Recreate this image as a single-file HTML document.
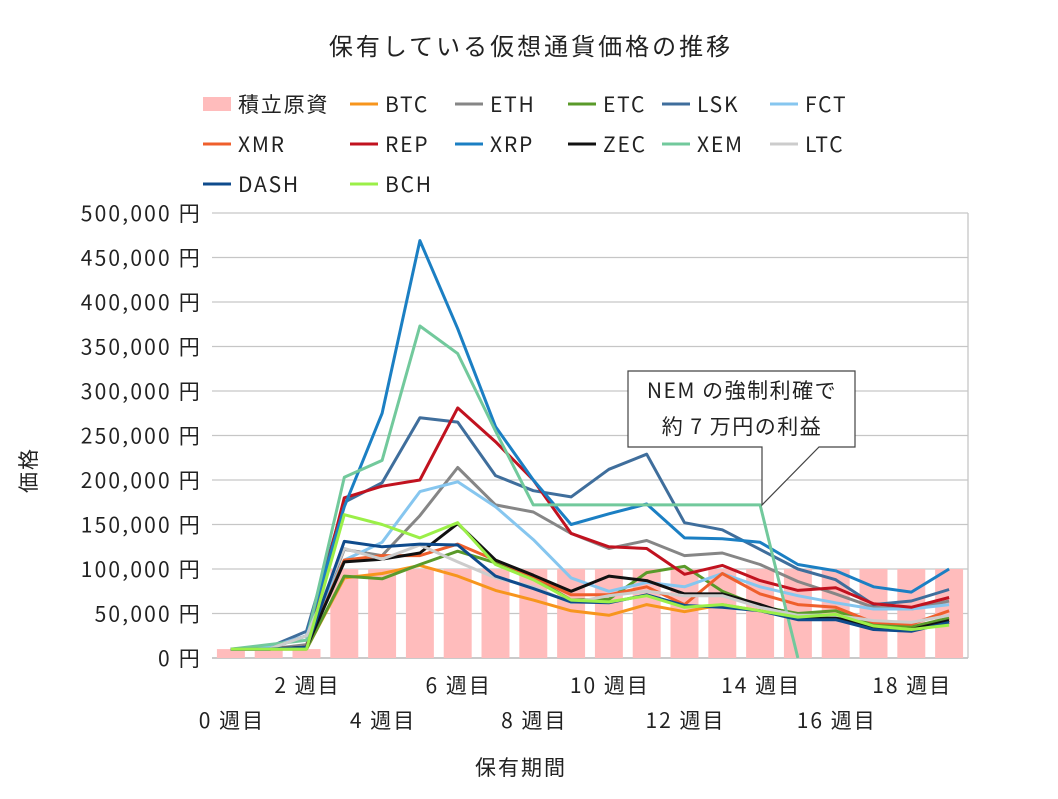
<!DOCTYPE html>
<html><head><meta charset="utf-8"><style>
body{margin:0;background:#fff;}
svg text{font-family:"Noto Sans CJK JP","Liberation Sans",sans-serif;fill:#222;}
</style></head><body>
<svg id="chart" width="1058" height="794">
<text x="531" y="55" font-size="24" letter-spacing="3" text-anchor="middle">保有している仮想通貨価格の推移</text>
<g id="legend"></g>
<g id="grid"></g>
<g id="bars"></g>
<g id="lines"></g>
<g id="yaxis"></g>
<g id="xaxis"></g>
<text transform="translate(36,470) rotate(-90)" font-size="21" letter-spacing="2" text-anchor="middle">価格</text>
<text x="521" y="775" font-size="21" letter-spacing="2" text-anchor="middle">保有期間</text>
<g>
<path d="M628,371 H855 V447 H819 L762,505 L762,447 H628 Z" fill="#fff" stroke="#444" stroke-width="1.2"/>
<text x="742" y="398" font-size="21" letter-spacing="1.5" text-anchor="middle">NEM の強制利確で</text>
<text x="742" y="434" font-size="21" letter-spacing="1.5" text-anchor="middle">約 7 万円の利益</text>
</g>
</svg>
<script>
const weeks=[0,1,2,3,4,5,6,7,8,9,10,11,12,13,14,15,16,17,18,19];
const yTicks=[0,50000,100000,150000,200000,250000,300000,350000,400000,450000,500000];
const principal=[10000,10000,10000,100000,100000,100000,100000,100000,100000,100000,100000,100000,100000,100000,100000,100000,100000,100000,100000,100000];
const BTC=[10,10,10,90,95,104,92,76,65,53,48,60,52,60,53,45,47,35,33,42];
const ETH=[10,10,15,122,115,160,214,172,164,140,123,132,115,118,105,86,72,57,55,64];
const ETC=[10,10,10,92,89,105,120,107,90,65,66,96,103,75,58,50,53,38,35,45];
const LSK=[10,12,30,175,197,270,265,205,188,181,212,229,152,144,122,100,88,60,64,77];
const FCT=[10,12,25,110,130,187,198,170,133,90,75,85,80,95,80,70,62,55,55,60];
const XMR=[10,10,12,110,115,115,128,110,91,71,71,80,60,95,72,60,57,40,38,53];
const REP=[10,10,12,180,193,200,281,243,200,140,125,123,94,104,87,76,79,61,57,68];
const XRP=[10,10,25,170,275,469,370,260,200,150,162,173,135,134,130,105,98,80,74,100];
const ZEC=[10,10,12,108,111,118,151,110,93,75,92,87,72,72,60,46,46,35,32,42];
const XEM=[10,15,20,203,222,373,342,255,172,172,172,172,172,172,172,0];
const LTC=[10,10,25,123,111,127,108,90,80,62,70,75,70,70,57,48,48,42,40,48];
const DASH=[10,10,12,131,125,128,127,92,78,63,62,71,59,57,53,43,43,32,30,40];
const BCH=[10,10,10,161,150,135,152,105,88,65,63,70,57,60,53,46,49,36,32,37];
const seriesNames=["BTC","ETH","ETC","LSK","FCT","XMR","REP","XRP","ZEC","XEM","LTC","DASH","BCH"];
const seriesData=[BTC,ETH,ETC,LSK,FCT,XMR,REP,XRP,ZEC,XEM,LTC,DASH,BCH];
const colors=["#f7951d","#868686","#5a9a2a","#3f6e9c","#86c6ef","#ef5f2c","#c1121f","#1b7fc3","#111111","#72c99c","#cccccc","#0f4b8c","#9bef48"];
const NS="http://www.w3.org/2000/svg";
const X0=212,X1=968,Y0=658,Y1=213,band=(X1-X0)/weeks.length;
const xs=i=>X0+band*(i+0.5);
const ys=v=>Y0-(v/500000)*(Y0-Y1);
function mk(tag,attrs,parent){const e=document.createElementNS(NS,tag);for(const k in attrs)e.setAttribute(k,attrs[k]);document.getElementById(parent).appendChild(e);return e;}
yTicks.forEach(t=>{
 const l=mk('line',{x1:X0,x2:X1,y1:ys(t),y2:ys(t),stroke:t===0?'#aaa':'#c6c6c6','stroke-width':1.3},'grid');
 
 
 const tx=mk('text',{x:202,y:ys(t)+8,'font-size':21,'letter-spacing':2.2,'text-anchor':'end'},'yaxis');
 tx.textContent=t.toLocaleString('en-US')+' 円';
 
 
});
mk('line',{x1:X1,x2:X1,y1:Y1,y2:Y0,stroke:'#c6c6c6','stroke-width':1.3},'grid');
weeks.forEach((w,i)=>{
 const b=mk('rect',{x:xs(i)-band*0.37,width:band*0.74,y:ys(principal[i]),height:Y0-ys(principal[i]),fill:'#ffbcbc'},'bars');
 
 
 if(w%2===0){
  const tx=mk('text',{x:xs(i)+1,y:(w%4===2)?693:728,'font-size':21,'letter-spacing':2,'text-anchor':'middle'},'xaxis');
  tx.textContent=w+' 週目';
  
  
 }
});
seriesData.forEach((d,s)=>{
 const pts=d.map((v,i)=>xs(i).toFixed(1)+','+ys(v*1000).toFixed(1)).join(' ');
 const p=mk('polyline',{points:pts,fill:'none',stroke:colors[s],'stroke-width':3,'stroke-linejoin':'round'},'lines');
 
 
});
const legItems=[{n:"積立原資",bar:true}].concat(seriesNames.map((n,i)=>({n:n,c:colors[i]})));
const colX=[203,350,455,568,662,770];
legItems.forEach((it,k)=>{
 const r=Math.floor(k/6),c=k%6,x=colX[c],y=104+r*40;
 if(it.bar){const sw=mk('rect',{x:x,y:y-7,width:28,height:14,fill:'#ffbcbc'},'legend');}
 else{const sw=mk('line',{x1:x,x2:x+28,y1:y,y2:y,stroke:it.c,'stroke-width':3},'legend');}
 const t=mk('text',{x:x+35,y:y+8,'font-size':21,'letter-spacing':1.8},'legend');
 t.textContent=it.n;
 
 
});
</script>
</body></html>
